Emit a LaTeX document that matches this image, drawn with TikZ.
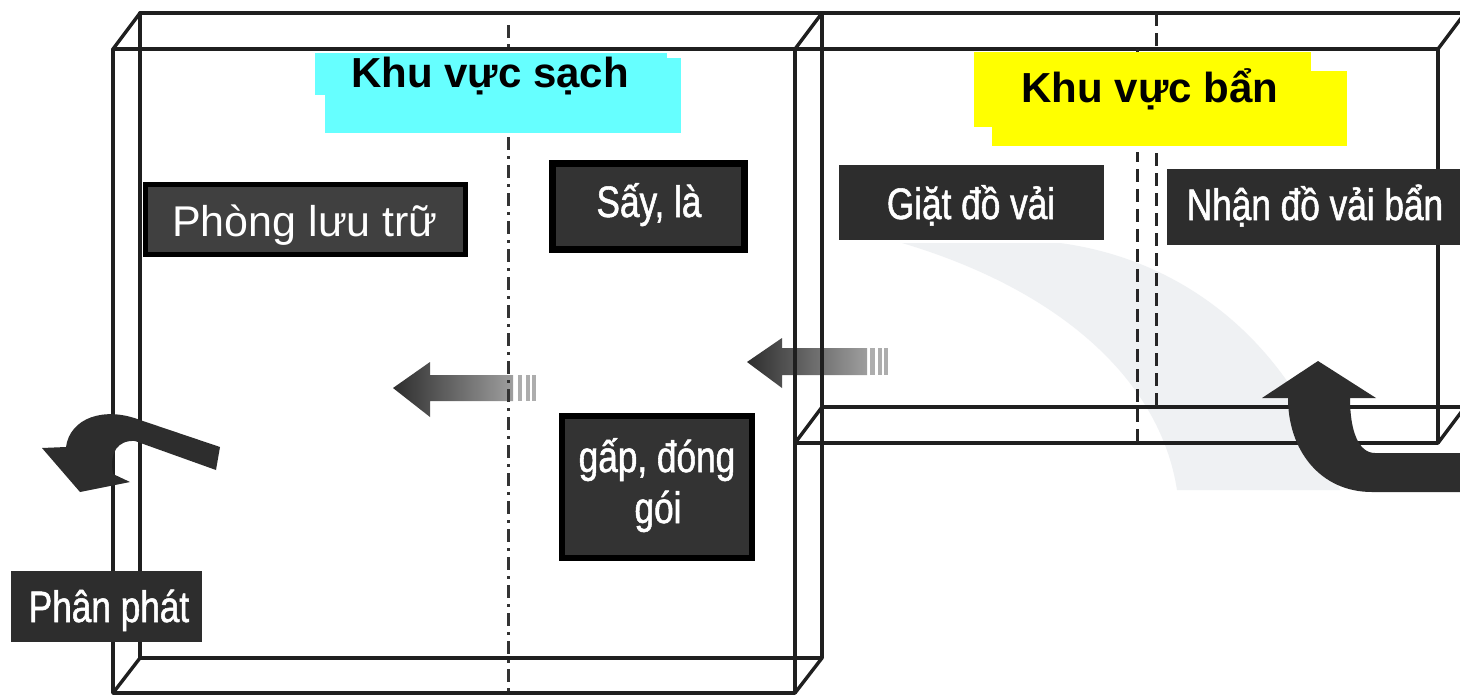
\documentclass[tikz,border=0pt]{standalone}
\usepackage{fontspec}
\setmainfont{Liberation Sans}
\newfontfamily\condfont[FakeStretch=0.8,FakeBold=1.2]{Liberation Sans}
\definecolor{boxgray}{HTML}{333333}
\definecolor{boxgrayb}{HTML}{404040}
\definecolor{arrowdark}{HTML}{2D2D2D}
\definecolor{cyanbg}{HTML}{66FFFF}
\definecolor{yellowbg}{HTML}{FFFF00}
\definecolor{bandgray}{HTML}{EFF1F3}
\begin{document}
\begin{tikzpicture}[x=1pt,y=-1pt,
  frame/.style={line width=3.4pt, draw=black!88, line cap=round, line join=round},
  wall/.style={line width=3pt, draw=black!85, dash pattern=on 13pt off 7pt},
  wallclean/.style={line width=3pt, draw=black!80, dash pattern=on 13pt off 6pt on 3pt off 6pt},
  darkbox/.style={rectangle, fill=boxgray, inner sep=0pt},
  lbl/.style={text=white, font=\condfont\fontsize{44}{50}\selectfont, inner sep=0pt, anchor=base},
  lblwide/.style={text=white, font=\fontsize{43}{50}\selectfont, inner sep=0pt, anchor=base},
  title/.style={font=\bfseries\fontsize{42}{48}\selectfont, inner sep=0pt, anchor=base},
  bar/.style={fill=black!32},
]
\useasboundingbox (0,0) rectangle (1460,697);
\fill[white] (0,0) rectangle (1460,697);

% faint background band in dirty area
\fill[bandgray] (902,243) .. controls (1060,290) and (1160,380) .. (1177,490)
  -- (1340,490) .. controls (1300,360) and (1200,262) .. (1060,243) -- cycle;

% gradient arrows
\shade[left color=black!82, right color=black!38]
  (393,388) -- (430,362) -- (430,375) -- (513,375) -- (513,401) -- (430,401) -- (430,417) -- cycle;
\fill[bar] (518,375) rectangle (522,401);
\fill[bar] (526,375) rectangle (530,401);
\fill[bar] (532,375) rectangle (536,401);

\shade[left color=black!82, right color=black!38]
  (747,362) -- (782,338) -- (782,348) -- (867,348) -- (867,375) -- (782,375) -- (782,388) -- cycle;
\fill[bar] (870,348) rectangle (875,375);
\fill[bar] (878,348) rectangle (882,375);
\fill[bar] (884,348) rectangle (888,375);

% clean area box (left)
\draw[frame] (113,49) -- (795,49) -- (795,693) -- (113,693) -- cycle;
\draw[frame] (140,13) -- (140,658) -- (822,658) -- (822,13);
\draw[frame] (113,49) -- (140,13);
\draw[frame] (795,49) -- (822,13);
\draw[frame] (113,693) -- (140,658);
\draw[frame] (795,693) -- (822,658);

% dirty area box (right)
\draw[frame] (140,13) -- (1465,13);
\draw[frame] (795,49) -- (1438,49) -- (1438,443) -- (795,443);
\draw[frame] (822,407) -- (1465,407);
\draw[frame] (795,443) -- (822,407);
\draw[frame] (1438,49) -- (1465,13);
\draw[frame] (1438,443) -- (1465,407);

% partition walls
\draw[wallclean] (508,25) -- (508,693);
\draw[wall] (1156,13) -- (1156,407);
\draw[wall] (1137,49) -- (1137,443);

% curved arrows
\fill[arrowdark] (220,447) -- (140,420) .. controls (104,406) and (70,418) .. (66,447)
  -- (42,448) -- (80,492) -- (130,482) -- (113,474)
  .. controls (109,452) and (118,440) .. (135,441) -- (216,470) -- cycle;

\fill[arrowdark] (1470,492) -- (1372,492) .. controls (1320,492) and (1288,450) .. (1288,398)
  -- (1262,398) -- (1318,361) -- (1376,398) -- (1350,398)
  .. controls (1350,430) and (1358,453) .. (1375,453) -- (1470,453) -- cycle;

% titles
\fill[cyanbg] (325,58) rectangle (681,133);
\fill[cyanbg] (315,53) rectangle (667,95);
\node[title] (clean) at (490,87) {Khu vực sạch};

\fill[white] (968,52) rectangle (1352,152);
\fill[yellowbg] (974,52) rectangle (1311,127);
\fill[yellowbg] (992,71) rectangle (1347,146);
\node[title] (dirty) at (1150,102) {Khu vực bẩn};

% dark label boxes
\node[darkbox, fill=boxgrayb, draw=black, line width=5pt, minimum width=320pt, minimum height=70pt] (storeB) at (305.5,219.5) {};
\node[lblwide] (store) at (305,236) {Phòng lưu trữ};

\node[darkbox, draw=black, line width=7pt, minimum width=192pt, minimum height=86pt] (dryB) at (648.5,206.5) {};
\node[lbl] (dry) at (649,217) {Sấy, là};

\node[darkbox, draw=black, line width=6pt, minimum width=190pt, minimum height=142pt] (foldB) at (657,487) {};
\node[lbl] (fold1) at (657,472) {gấp, đóng};
\node[lbl] (fold2) at (658,523) {gói};

\node[darkbox, fill=arrowdark, minimum width=265pt, minimum height=75pt] (washB) at (971.5,202.5) {};
\node[lbl] (wash) at (971,219) {Giặt đồ vải};

\node[darkbox, fill=arrowdark, minimum width=293pt, minimum height=76pt] (recvB) at (1313.5,207) {};
\node[lbl] (recv) at (1315,220) {Nhận đồ vải bẩn};

\node[darkbox, fill=arrowdark, minimum width=191pt, minimum height=71pt] (distB) at (106.5,606.5) {};
\node[lbl] (dist) at (109,622) {Phân phát};
\end{tikzpicture}
\end{document}
